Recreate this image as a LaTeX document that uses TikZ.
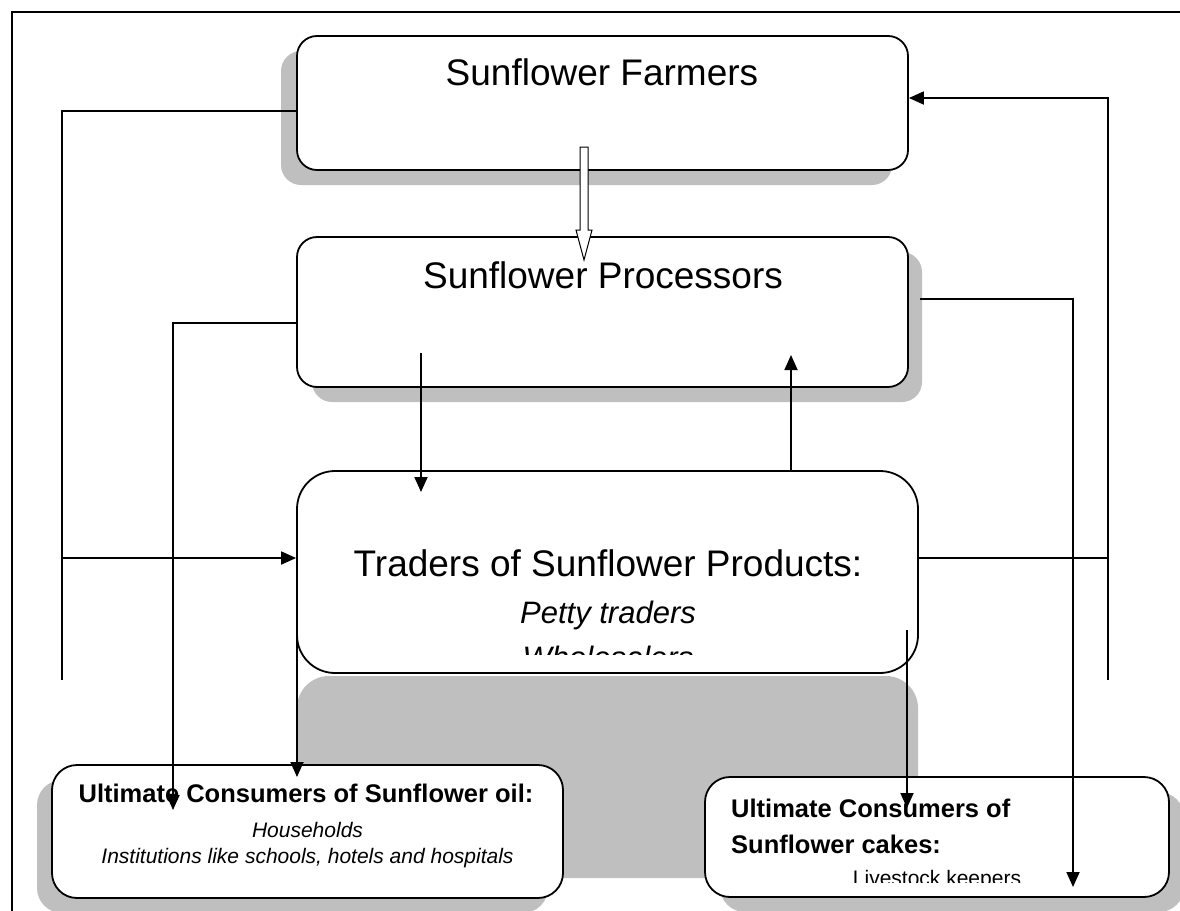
\documentclass[tikz,border=0pt]{standalone}
\usepackage{fontspec}
\setmainfont{Liberation Sans}
\usetikzlibrary{calc,arrows.meta}
\tikzset{
	box/.style={draw, line width=1.8pt, fill=white, inner sep=0pt},
	shadowbox/.style={fill=black!25},
	link/.style={line width=1.8pt},
	flow/.style={line width=1.8pt, -{Triangle[length=15pt,width=13pt]}},
	boxtitle/.style={anchor=base, inner sep=0pt, font=\fontsize{37}{44}\selectfont},
	boxsub/.style={anchor=base, inner sep=0pt, font=\fontsize{31}{36}\selectfont\itshape},
	cbold/.style={anchor=base, inner sep=0pt, font=\fontsize{25.5}{30}\selectfont\bfseries},
	citem/.style={anchor=base, inner sep=0pt, font=\fontsize{21}{25}\selectfont\itshape},
}

\begin{document}
\begin{tikzpicture}[x=1pt, y=-1pt]
			%%%%% START %%%%%
			\useasboundingbox (0,0) rectangle (1180,910);
			\draw[line width=1.8pt] (12,920) -- (12,12) -- (1190,12);
			
			% shadows
			\fill[shadowbox, rounded corners=20pt] (281,51) rectangle (892,185);
			\fill[shadowbox, rounded corners=20pt] (312,252) rectangle (922,402);
			\fill[shadowbox, rounded corners=32pt] (297,676) rectangle (918,878);
			\fill[shadowbox, rounded corners=25pt] (37,780) rectangle (548,913);
			\fill[shadowbox, rounded corners=25pt] (720,792) rectangle (1184,912);
			
			% boxes
			\node[box, rounded corners=20pt, minimum width=611pt, minimum height=134pt] (farm) at (602.5,103) {};
			\node[box, rounded corners=20pt, minimum width=611pt, minimum height=150pt] (proc) at (602.5,312) {};
			\node[box, rounded corners=38pt, minimum width=621pt, minimum height=202pt] (trade) at (607.5,572) {};
			\node[box, rounded corners=25pt, minimum width=511pt, minimum height=133pt] (oil) at (307.5,831.5) {};
			\node[box, rounded corners=25pt, minimum width=464pt, minimum height=120pt] (cake) at (937,837) {};
			
			% texts
			\node[boxtitle] (farmtxt) at (602,85) {Sunflower Farmers};
			\node[boxtitle] (proctxt) at (603,288) {Sunflower Processors};
			\node[boxtitle] (tradetxt) at (608,576) {Traders of Sunflower Products:};
			\node[boxsub] (petty) at (608,623) {Petty traders};
			\begin{scope}
				\clip (0,0) rectangle (1180,654);
				\node[boxsub] (whole) at (608,668) {Wholesalers};
			\end{scope}
			\node[cbold] (oiltxt) at (306,802) {Ultimate Consumers of Sunflower oil:};
			\node[citem] (house) at (307.5,837) {Households};
			\node[citem] (inst) at (307.5,863) {Institutions like schools, hotels and hospitals};
			\node[cbold, anchor=base west] (caketxt) at (731,817) {Ultimate Consumers of};
			\node[cbold, anchor=base west] (caketxtb) at (731,853) {Sunflower cakes:};
			\begin{scope}
				\clip (0,0) rectangle (1180,882);
				\node[citem, font=\fontsize{21}{25}\selectfont] (live) at (937,885) {Livestock keepers};
			\end{scope}
			
			% free ends and side points
			\coordinate (lfoot) at (62,680);
			\coordinate (rfoot) at (1108,680);
			\coordinate (oilinA) at (173,810);
			\coordinate (oilinB) at (297,777);
			\coordinate (cakeinA) at (907,808);
			\coordinate (cakeinB) at (1073,887);
			\coordinate (pdown) at (421,353);
			\coordinate (tdown) at (421,492);
			\coordinate (pup) at (791,355);
			\coordinate (tleft) at (297,600);
			\coordinate (tright) at (907,630);
			\coordinate (holtop) at (584,147);
			\coordinate (holtip) at (584,260);
			\coordinate (farmW) at ([yshift=-8pt]farm.west);
			\coordinate (farmE) at ([yshift=5pt]farm.east);
			\coordinate (procW) at ([yshift=-11pt]proc.west);
			\coordinate (procE) at ([xshift=11pt,yshift=13pt]proc.east);
			\coordinate (tradeW) at ([yshift=14pt]trade.west);
			\coordinate (tradeE) at ([yshift=14pt]trade.east);
			
			% hollow arrow
			\draw[line width=1pt, fill=white] ($(holtop)+(-4,0)$) -- ($(holtip)+(-4,-30)$) -- ($(holtip)+(-8,-30)$) -- (holtip) -- ($(holtip)+(8,-30)$) -- ($(holtip)+(4,-30)$) -- ($(holtop)+(4,0)$) -- cycle;
			
			% connectors
			\draw[link] (farmW) -| (lfoot);
			\draw[flow] (lfoot |- tradeW) -- (tradeW);
			\draw[flow] (rfoot) |- (farmE);
			\draw[link] (tradeE) -- (tradeE -| rfoot);
			\draw[flow] (procW) -| (oilinA);
			\draw[flow] (procE) -| (cakeinB);
			\draw[flow] (pdown) -- (tdown);
			\draw[flow] (trade.north -| pup) -- (pup);
			\draw[flow] (tleft) -- (oilinB);
			\draw[flow] (tright) -- (cakeinA);
			%%%%% END %%%%%
\end{tikzpicture}
\end{document}
